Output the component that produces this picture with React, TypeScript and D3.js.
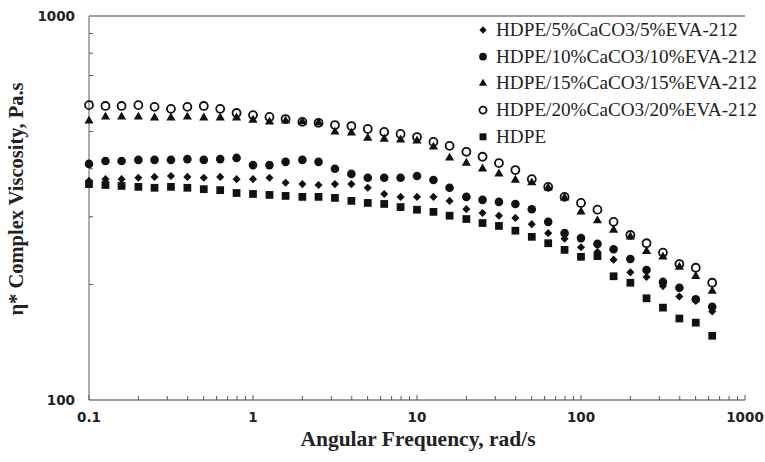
import React from "react";
import * as d3 from "d3";

const freq = [0.1, 0.126, 0.158, 0.2, 0.251, 0.316, 0.398, 0.501, 0.631, 0.794,
  1, 1.26, 1.58, 2, 2.51, 3.16, 3.98, 5.01, 6.31, 7.94,
  10, 12.6, 15.8, 20, 25.1, 31.6, 39.8, 50.1, 63.1, 79.4,
  100, 126, 158, 200, 251, 316, 398, 501, 631];

const s5 = [372, 376, 376, 379, 381, 383, 381, 379, 381, 376, 376, 379, 368, 365, 363, 365, 365, 357, 344, 338, 338, 338, 330, 314, 307, 302, 298, 287, 272, 263, 250, 243, 232, 215, 209, 198, 186, 181, 170];
const s10 = [412, 419, 419, 422, 422, 422, 424, 422, 424, 427, 409, 409, 417, 422, 417, 400, 388, 379, 379, 379, 383, 374, 357, 338, 332, 328, 324, 314, 291, 272, 264, 255, 247, 233, 218, 203, 196, 183, 175];
const s15 = [533, 546, 546, 546, 543, 543, 546, 543, 543, 543, 536, 530, 533, 530, 527, 499, 496, 481, 478, 476, 473, 456, 427, 414, 400, 388, 374, 368, 357, 336, 309, 293, 277, 266, 244, 236, 222, 210, 192];
const s20 = [586, 583, 583, 586, 580, 573, 580, 583, 573, 559, 552, 546, 539, 530, 527, 520, 517, 508, 499, 493, 484, 470, 459, 443, 430, 414, 397, 376, 359, 338, 326, 313, 291, 269, 256, 242, 226, 221, 202];
const sHDPE = [365, 363, 361, 359, 357, 359, 357, 354, 352, 346, 344, 342, 340, 338, 338, 336, 330, 326, 324, 318, 313, 309, 302, 296, 289, 284, 276, 266, 256, 246, 236, 237, 210, 202, 184, 174, 163, 159, 147];

const seriesNames = [
  "HDPE/5%CaCO3/5%EVA-212",
  "HDPE/10%CaCO3/10%EVA-212",
  "HDPE/15%CaCO3/15%EVA-212",
  "HDPE/20%CaCO3/20%EVA-212",
  "HDPE",
];
const seriesValues = [s5, s10, s15, s20, sHDPE];
const seriesMarkers = ["diamond", "dot", "triangle", "ring", "square"];

const xTicks = [0.1, 1, 10, 100, 1000];
const xTickLabels = ["0.1", "1", "10", "100", "1000"];
const yTicks = [100, 1000];
const yTickLabels = ["100", "1000"];

const W = 765, H = 462;
const M = { left: 89, right: 745, top: 16, bottom: 400 };

function markerPath(kind: string, legend = false) {
  const k = legend ? 0.8 : 1;
  switch (kind) {
    case "diamond": return d3.symbol(d3.symbolDiamond2, 42 * k)();
    case "dot": return d3.symbol(d3.symbolCircle, 58 * k)();
    case "triangle": return d3.symbol(d3.symbolTriangle2, 60 * k)();
    case "ring": return d3.symbol(d3.symbolCircle, 50 * k)();
    default: return d3.symbol(d3.symbolSquare, 60 * k)();
  }
}

function Marker({ kind, x, y, legend = false }: { kind: string; x: number; y: number; legend?: boolean }) {
  const d = markerPath(kind, legend) || "";
  if (kind === "ring") {
    return <path d={d} transform={`translate(${x},${y})`} fill="none" stroke="#111" strokeWidth={1.8} />;
  }
  return <path d={d} transform={`translate(${x},${y})`} fill="#111" />;
}

export default function App() {
  const x = d3.scaleLog().domain([0.1, 1000]).range([M.left, M.right]);
  const y = d3.scaleLog().domain([100, 1000]).range([M.bottom, M.top]);

  const xMinor: number[] = [];
  for (let dec = 0.1; dec < 1000; dec *= 10) {
    for (let m = 2; m <= 9; m++) xMinor.push(+(dec * m).toPrecision(3));
  }
  const yMinor: number[] = [];
  for (let m = 2; m <= 9; m++) yMinor.push(100 * m);

  const axisColor = "#808080";
  const drawOrder = [4, 0, 1, 2, 3];

  return (
    <svg width={W} height={H} style={{ position: "absolute", left: 0, top: 0, background: "#fff" }}>
      <rect x={0} y={0} width={W} height={H} fill="#fff" />
      <line x1={M.left} x2={M.right} y1={M.top} y2={M.top} stroke={axisColor} strokeWidth={1.3} />
      <line x1={M.left} x2={M.left} y1={M.top} y2={M.bottom} stroke={axisColor} strokeWidth={1.3} />
      <line x1={M.left} x2={M.right} y1={M.bottom} y2={M.bottom} stroke={axisColor} strokeWidth={1.3} />
      {xMinor.map((t, i) => (
        <line key={"xm" + i} x1={x(t)} x2={x(t)} y1={M.bottom} y2={M.bottom - 4} stroke="#555" strokeWidth={1} />
      ))}
      {xTicks.map((t, i) => (
        <line key={"xM" + i} x1={x(t)} x2={x(t)} y1={M.bottom} y2={M.bottom - 5} stroke="#555" strokeWidth={1} />
      ))}
      {yMinor.map((t, i) => (
        <line key={"ym" + i} x1={M.left} x2={M.left + 4} y1={y(t)} y2={y(t)} stroke="#555" strokeWidth={1} />
      ))}
      {xTicks.map((t, i) => (
        <text key={"xl" + i} x={x(t)} y={422} textAnchor="middle" fontFamily="DejaVu Sans" fontWeight="bold" fontSize={13.5} fill="#222">
          {xTickLabels[i]}
        </text>
      ))}
      {yTicks.map((t, i) => (
        <text key={"yl" + i} x={75} y={y(t) + 5} textAnchor="end" fontFamily="DejaVu Sans" fontWeight="bold" fontSize={13.5} fill="#222">
          {yTickLabels[i]}
        </text>
      ))}
      <text x={418} y={446} textAnchor="middle" fontFamily="Liberation Serif" fontWeight="bold" fontSize={21.5} fill="#222">
        Angular Frequency, rad/s
      </text>
      <text transform={`translate(23,199) rotate(-90)`} textAnchor="middle" fontFamily="Liberation Serif" fontWeight="bold" fontSize={20.5} fill="#222">
        η* Complex Viscosity, Pa.s
      </text>
      {drawOrder.map((si) => (
        <g key={"s" + si}>
          {seriesValues[si].map((v, i) => (
            <Marker key={i} kind={seriesMarkers[si]} x={x(freq[i])} y={y(v)} />
          ))}
        </g>
      ))}
      {seriesNames.map((name, i) => (
        <g key={"lg" + i} transform={`translate(483,${30 + i * 26.7})`}>
          <Marker kind={seriesMarkers[i]} x={0} y={0} legend />
          <text x={13} y={6} fontFamily="Liberation Serif" fontSize={19.2} fill="#222">{name}</text>
        </g>
      ))}
    </svg>
  );
}
